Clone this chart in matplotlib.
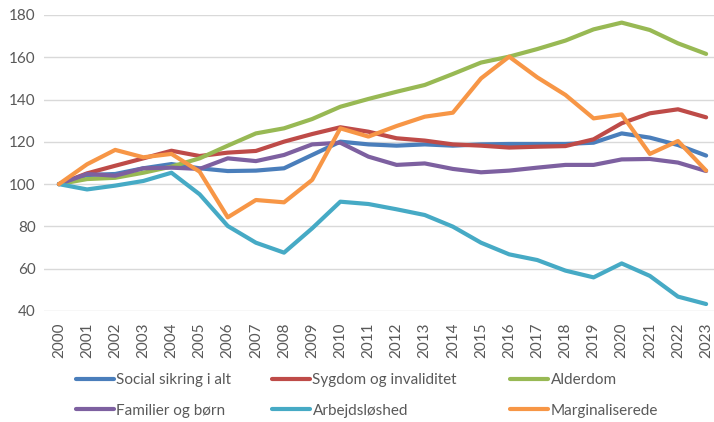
import numpy as np
import matplotlib.pyplot as plt

years = [str(y) for y in range(2000, 2024)]

social = [100, 104.3, 104.8, 107.5, 109.5, 107.5, 106.2, 106.4, 107.5, 113.8, 120.1, 118.8,
          118.2, 118.8, 118.2, 118.8, 119.0, 119.0, 119.0, 119.6, 124.0, 122.0, 118.5, 113.5]
sygdom = [100, 105.1, 108.7, 112.2, 115.8, 113.3, 114.9, 115.7, 120.1, 123.7, 126.9, 124.8,
          121.7, 120.6, 118.8, 118.2, 117.3, 117.7, 118.0, 121.2, 128.8, 133.5, 135.4, 131.6]
alderdom = [100, 102.4, 103.0, 105.4, 108.3, 112.2, 118.2, 124.0, 126.4, 130.8, 136.6, 140.3,
            143.7, 146.9, 152.1, 157.5, 160.3, 163.9, 167.9, 173.2, 176.4, 172.9, 166.6, 161.6]
familier = [100, 104.8, 104.0, 107.5, 107.8, 107.2, 112.2, 110.9, 113.8, 118.8, 119.6, 113.0,
            109.1, 109.8, 107.2, 105.6, 106.4, 107.8, 109.1, 109.1, 111.7, 111.9, 110.2, 106.2]
arbejd = [100, 97.5, 99.3, 101.5, 105.4, 95.2, 80.2, 72.3, 67.6, 79.1, 91.7, 90.6,
          88.1, 85.4, 79.9, 72.3, 66.8, 64.1, 59.1, 55.9, 62.5, 56.6, 46.8, 43.3]
margin = [100, 109.4, 116.2, 112.7, 114.3, 105.9, 84.3, 92.5, 91.4, 102.0, 126.4, 122.5,
          127.5, 131.9, 133.8, 150.0, 160.3, 150.5, 142.2, 131.1, 133.0, 114.3, 120.4, 106.4]

labels = ["Social sikring i alt", "Sygdom og invaliditet", "Alderdom",
          "Familier og børn", "Arbejdsløshed", "Marginaliserede"]
colors = ["#4A7EBB", "#BE4B48", "#98B954", "#7D60A0", "#46AAC5", "#F79646"]
series = [social, sygdom, alderdom, familier, arbejd, margin]

plt.rcParams["font.family"] = ["Lato", "DejaVu Sans"]

fig = plt.figure(figsize=(7.14, 4.22), dpi=100)
ax = fig.add_axes([44 / 714, 1 - 311 / 422, 670 / 714, 296 / 422])

x = np.arange(len(years))
lines = []
for vals, col, lab in zip(series, colors, labels):
    ln, = ax.plot(x, vals, color=col, lw=3, label=lab, solid_capstyle="round",
                  solid_joinstyle="round")
    lines.append(ln)

ax.set_ylim(40, 180)
ax.set_yticks(range(40, 181, 20))
ax.set_xlim(-0.53, 23.28)
ax.set_xticks(x)
ax.set_xticklabels(years, rotation=90)
ax.grid(axis="y", color="#D9D9D9", lw=1)
ax.set_axisbelow(True)
for s in ax.spines.values():
    s.set_visible(False)
ax.tick_params(length=0, labelsize=11, colors="#595959", pad=8)
ax.tick_params(axis="y", pad=6)

# legend: three columns, each with two rows
col_x = [76 / 714, 272 / 714, 510 / 714]
for i, cx in enumerate(col_x):
    hs = [lines[i], lines[i + 3]]
    fig.legend(hs, [h.get_label() for h in hs], loc="upper left",
               bbox_to_anchor=(cx, 1 - 373 / 422), frameon=False,
               fontsize=11, labelcolor="#595959", handlelength=2.5,
               handletextpad=0.15, labelspacing=1.1, borderpad=0, borderaxespad=0)

fig.savefig("out.png", dpi=100)
